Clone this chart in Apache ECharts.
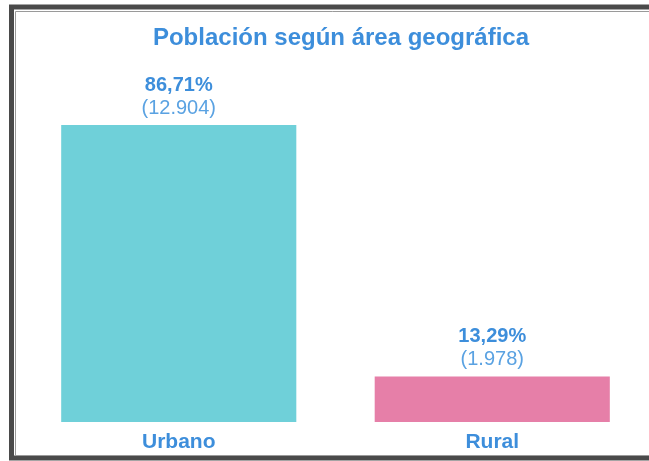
<!DOCTYPE html>
<html>
<head>
<meta charset="utf-8">
<script src="https://cdn.jsdelivr.net/npm/echarts@6/dist/echarts.min.js"></script>
<style>
  html, body { margin: 0; padding: 0; background: #fff; }
  #chart { width: 649px; height: 461px; }
</style>
</head>
<body>
<div id="chart"></div>
<script>
// datos
const categorias = ['Urbano', 'Rural']
const poblacion = [12904, 1978]
const colores = ['#6fd0d9', '#e67fa8']

const total = poblacion.reduce((a, b) => a + b, 0)

function fmtMiles(n) {
    return String(n).replace(/\B(?=(\d{3})+(?!\d))/g, '.')
}
function fmtPct(n) {
    return (n / total * 100).toFixed(2).replace('.', ',') + '%'
}

const azul = '#3d8edb'
const chart = echarts.init(document.getElementById('chart'))
chart.setOption({
    animation: false,
    title: {
        text: 'Población según área geográfica',
        left: 336,
        textAlign: 'center',
        top: 21,
        textStyle: {
            fontFamily: 'Liberation Sans',
            fontSize: 24,
            fontWeight: 'bold',
            color: azul
        }
    },
    grid: { left: 22, top: 125, width: 628, bottom: 39 },
    xAxis: {
        type: 'category',
        data: categorias,
        axisLine: { show: false },
        axisTick: { show: false },
        axisLabel: {
            margin: 10,
            fontFamily: 'Liberation Sans',
            fontSize: 21,
            fontWeight: 'bold',
            color: azul
        }
    },
    yAxis: {
        type: 'value',
        min: 0,
        max: 12904,
        show: false,
        splitLine: { show: false }
    },
    series: [{
        type: 'bar',
        barWidth: '75%',
        data: poblacion.map((v, i) => ({ value: v, itemStyle: { color: colores[i] } })),
        label: {
            show: true,
            position: 'top',
            distance: 5,
            formatter: p => '{a|' + fmtPct(p.value) + '}\n{b|(' + fmtMiles(p.value) + ')}',
            rich: {
                a: { fontFamily: 'Liberation Sans', fontSize: 20, fontWeight: 'bold', color: azul, lineHeight: 24 },
                b: { fontFamily: 'Liberation Sans', fontSize: 20, color: '#5aa2e2', lineHeight: 23 }
            }
        }
    }],
    graphic: [
        // marco
        { type: 'rect', shape: { x: 11.5, y: 7, width: 700, height: 451 }, style: { fill: 'none', stroke: '#4a4a4a', lineWidth: 5 }, silent: true },
        { type: 'rect', shape: { x: 15.5, y: 11.5, width: 700, height: 444 }, style: { fill: 'none', stroke: '#9a9a9a', lineWidth: 1 }, silent: true }
    ]
})
</script>
</body>
</html>
